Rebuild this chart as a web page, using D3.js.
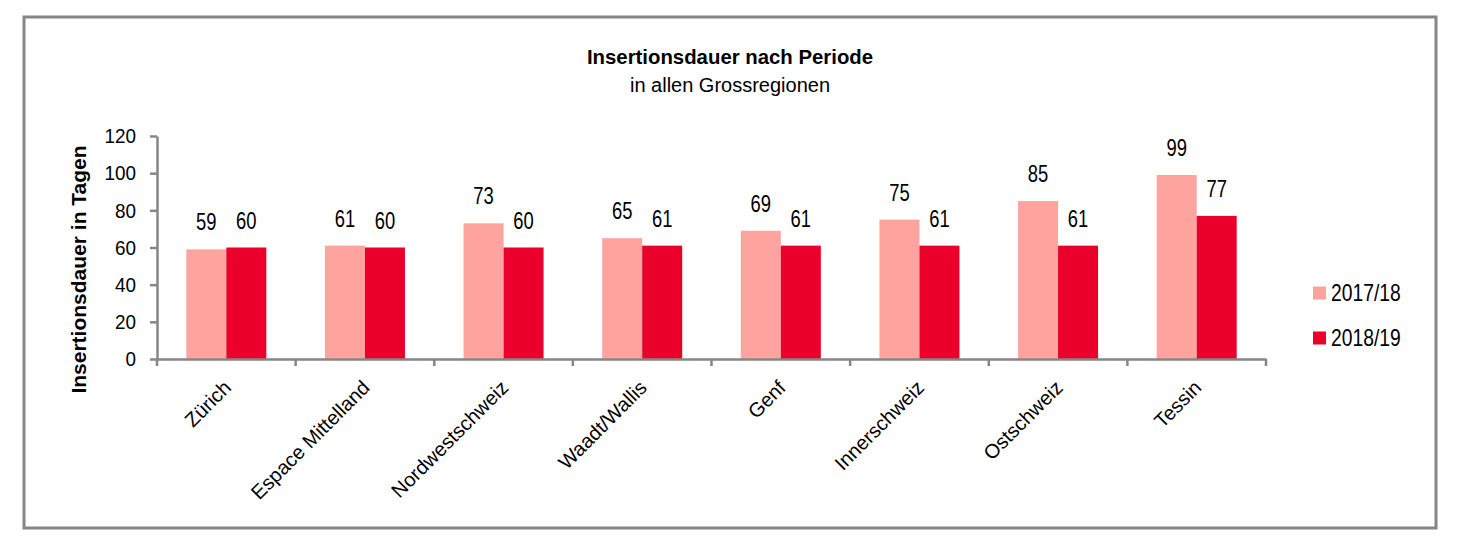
<!DOCTYPE html>
<html>
<head>
<meta charset="utf-8">
<script src="https://cdn.jsdelivr.net/npm/d3@7"></script>
<style>
  body { margin: 0; background: #fff; }
  text { font-family: "Liberation Sans Narrow", "Arial Narrow", "Liberation Sans", Arial, sans-serif; fill: #000; }
</style>
</head>
<body>
<div id="chart"></div>
<script>
// data
const regions = ["Zürich", "Espace Mittelland", "Nordwestschweiz", "Waadt/Wallis", "Genf", "Innerschweiz", "Ostschweiz", "Tessin"];
const periods = ["2017/18", "2018/19"];
const values1718 = [59, 61, 73, 65, 69, 75, 85, 99];
const values1819 = [60, 60, 60, 61, 61, 61, 61, 77];
const yTicks = [0, 20, 40, 60, 80, 100, 120];

const colors = ["#FFA39E", "#EA002A"];
const axisColor = "#868686";

const W = 1463, H = 556;
const plot = {left: 157, right: 1266, top: 136, bottom: 359};

const svg = d3.select("#chart").append("svg")
    .attr("width", W)
    .attr("height", H);

// outer frame
svg.append("rect")
    .attr("x", 24).attr("y", 17)
    .attr("width", 1412).attr("height", 511)
    .attr("fill", "#fff")
    .attr("stroke", axisColor)
    .attr("stroke-width", 3);

// title
svg.append("text")
    .attr("transform", "translate(730,64) scale(0.97,1)")
    .attr("text-anchor", "middle")
    .style("font-size", "21px").style("font-weight", "bold")
    .text("Insertionsdauer nach Periode");
svg.append("text")
    .attr("x", 730).attr("y", 92)
    .attr("text-anchor", "middle")
    .style("font-size", "20px")
    .text("in allen Grossregionen");

// scales
const x = d3.scaleBand()
    .domain(regions)
    .range([plot.left, plot.right]);

const xInner = d3.scaleBand()
    .domain(periods)
    .range([0, 80]);

const y = d3.scaleLinear()
    .domain([0, 120])
    .range([plot.bottom, plot.top]);

// bars
const rows = regions.map((r, i) => ({region: r, vals: [values1718[i], values1819[i]]}));
const groups = svg.selectAll(".grp")
    .data(rows)
    .enter()
    .append("g")
    .attr("transform", d => `translate(${x(d.region) + (x.bandwidth() - 80) / 2},0)`);

groups.selectAll("rect")
    .data(d => d.vals.map((v, j) => ({period: periods[j], v: v, j: j})))
    .enter()
    .append("rect")
    .attr("x", d => xInner(d.period))
    .attr("y", d => y(d.v))
    .attr("width", xInner.bandwidth())
    .attr("height", d => y(0) - y(d.v))
    .attr("fill", d => colors[d.j]);

// value labels (narrow look)
groups.selectAll(".val")
    .data(d => d.vals.map((v, j) => ({period: periods[j], v: v})))
    .enter()
    .append("text")
    .attr("transform", d => `translate(${xInner(d.period) + xInner.bandwidth() / 2},${y(d.v) - 19}) scale(0.8,1)`)
    .attr("text-anchor", "middle")
    .style("font-size", "23px")
    .text(d => d.v);

// y axis
const yAxis = svg.append("g")
    .attr("transform", `translate(${plot.left},0)`)
    .call(d3.axisLeft(y).tickValues(yTicks).tickSize(7).tickSizeOuter(0).tickPadding(14));
yAxis.selectAll("line, path").attr("stroke", axisColor).attr("stroke-width", 2.5);
yAxis.selectAll("text")
    .style("font-size", "21px")
    .attr("fill", "#000")
    .attr("transform", "scale(0.9,1)")
    .attr("x", -21 / 0.9);

// x axis
const xAxis = svg.append("g")
    .attr("transform", `translate(0,${plot.bottom})`)
    .call(d3.axisBottom(x).tickSize(0).tickSizeOuter(0).tickFormat(""));
xAxis.select(".domain").attr("stroke", axisColor).attr("stroke-width", 2.5);
xAxis.selectAll(".tick").remove();

// boundary tick marks
const bounds = regions.map(r => x(r)).concat([plot.right]);
svg.selectAll(".xt")
    .data(bounds)
    .enter()
    .append("line")
    .attr("x1", d => d).attr("x2", d => d)
    .attr("y1", plot.bottom).attr("y2", plot.bottom + 7)
    .attr("stroke", axisColor)
    .attr("stroke-width", 2.5);

// x labels
svg.selectAll(".xl")
    .data(regions)
    .enter()
    .append("text")
    .attr("text-anchor", "end")
    .attr("transform", d => `translate(${x(d) + x.bandwidth() / 2 + 6},${plot.bottom + 30}) rotate(-45)`)
    .style("font-size", "20px")
    .text(d => d);

// y label
svg.append("text")
    .attr("transform", `translate(86,${(plot.top + plot.bottom) / 2 + 22}) rotate(-90)`)
    .attr("text-anchor", "middle")
    .style("font-size", "21px").style("font-weight", "bold")
    .text("Insertionsdauer in Tagen");

// legend
const legend = svg.selectAll(".lg")
    .data(periods)
    .enter()
    .append("g")
    .attr("transform", (d, i) => `translate(1313,${293 + i * 45})`);
legend.append("rect")
    .attr("x", 0).attr("y", -6.5)
    .attr("width", 13).attr("height", 13)
    .attr("fill", (d, i) => colors[i]);
legend.append("text")
    .attr("transform", "translate(18,8) scale(0.84,1)")
    .style("font-size", "23px")
    .text(d => d);
</script>
</body>
</html>
